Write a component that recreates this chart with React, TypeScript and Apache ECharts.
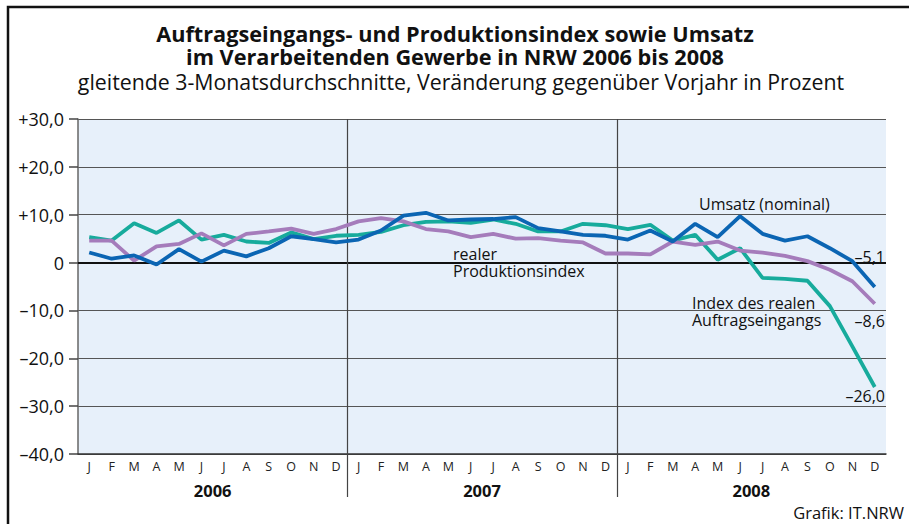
import React, { useEffect, useRef } from "react";
import * as echarts from "echarts";

const monthLetters = ["J", "F", "M", "A", "M", "J", "J", "A", "S", "O", "N", "D"];
const years = ["2006", "2007", "2008"];
const categories: string[] = [];
years.forEach((y) => monthLetters.forEach((m, i) => categories.push(y + "-" + (i + 1))));

const yTicks = [-40, -30, -20, -10, 0, 10, 20, 30];

// Index des realen Auftragseingangs
const auftrag = [
  5.3, 4.6, 8.2, 6.2, 8.8, 4.8, 5.8, 4.4, 4.1, 6.3, 4.9, 5.6,
  5.8, 6.4, 7.8, 8.5, 8.6, 8.3, 9.0, 8.1, 6.5, 6.5, 8.1, 7.8,
  7.0, 7.9, 4.6, 5.8, 0.6, 3.0, -3.2, -3.4, -3.8, -9.1, -17.5, -26.0,
];
// realer Produktionsindex
const produktion = [
  4.6, 4.6, 0.4, 3.4, 3.9, 6.1, 3.6, 6.0, 6.5, 7.1, 6.0, 7.0,
  8.6, 9.3, 8.6, 7.0, 6.5, 5.3, 6.0, 5.0, 5.1, 4.6, 4.2, 1.9,
  1.9, 1.7, 4.4, 3.7, 4.4, 2.5, 2.1, 1.4, 0.3, -1.5, -3.9, -8.6,
];
// Umsatz (nominal)
const umsatz = [
  2.1, 0.8, 1.5, -0.4, 2.8, 0.2, 2.5, 1.3, 3.0, 5.5, 4.9, 4.2,
  4.8, 6.7, 9.8, 10.4, 8.8, 9.0, 9.1, 9.5, 7.2, 6.5, 5.8, 5.6,
  4.8, 6.7, 4.4, 8.1, 5.3, 9.7, 6.0, 4.6, 5.5, 3.0, 0.3, -5.1,
];

const FONT = "'Open Sans', 'Noto Sans', sans-serif";
const TEAL = "#17ab9c";
const PURPLE = "#a57cbb";
const BLUE = "#0b65b3";

function fmtY(v: number): string {
  if (v === 0) return "0";
  const s = Math.abs(v).toFixed(1).replace(".", ",");
  return v > 0 ? "+" + s : "\u2013" + s;
}

export default function App() {
  const ref = useRef<HTMLDivElement>(null);
  useEffect(() => {
    if (!ref.current) return;
    const chart = echarts.init(ref.current, null, { renderer: "svg" });
    const lineSeries = (name: string, data: number[], color: string, z: number) => ({
      name,
      type: "line",
      data,
      symbol: "none",
      z,
      lineStyle: { color, width: 3.8 },
      itemStyle: { color },
    });
    const textEl = (text: string, x: number, y: number, opts: any = {}) => ({
      type: "text",
      x,
      y,
      z: 100,
      style: {
        text,
        fontFamily: FONT,
        fontSize: 16,
        fill: "#111",
        textVerticalAlign: "middle",
        ...opts,
      },
    });
    chart.setOption({
      animation: false,
      backgroundColor: "#ffffff",
      grid: { left: 78, right: 23, top: 119, bottom: 70, show: true, backgroundColor: "#e7f0fa", borderWidth: 0 },
      xAxis: [
        {
          type: "category",
          data: categories,
          boundaryGap: true,
          axisLine: { onZero: false, lineStyle: { color: "#333", width: 1.5 } },
          axisTick: { show: false },
          splitLine: { show: false },
          axisLabel: {
            formatter: (v: string) => monthLetters[parseInt(v.split("-")[1], 10) - 1],
            interval: 0,
            fontFamily: FONT,
            fontSize: 12.5,
            color: "#222",
            margin: 6,
          },
        },
        {
          type: "category",
          data: years,
          position: "bottom",
          offset: 22,
          axisLine: { show: false },
          axisTick: { show: false },
          splitLine: { show: false },
          axisLabel: { fontFamily: FONT, fontSize: 16.5, fontWeight: "bold", color: "#111", margin: 6 },
        },
      ],
      yAxis: {
        type: "value",
        min: -40,
        max: 30,
        interval: 10,
        axisLine: { show: true, lineStyle: { color: "#666", width: 1.5 } },
        axisTick: { show: true, length: 9, lineStyle: { color: "#444", width: 1.5 } },
        splitLine: { show: true, lineStyle: { color: "#555", width: 1.2 } },
        axisLabel: {
          formatter: (v: number) => (yTicks.indexOf(v) >= 0 ? fmtY(v) : ""),
          fontFamily: FONT,
          fontSize: 18,
          color: "#111",
          margin: 14,
        },
      },
      series: [
        {
          ...lineSeries("Index des realen Auftragseingangs", auftrag, TEAL, 3),
          markLine: {
            silent: true,
            symbol: "none",
            label: { show: false },
            lineStyle: { color: "#111", width: 2, type: "solid" },
            data: [{ yAxis: 0 }],
            z: 1,
          },
        },
        lineSeries("realer Produktionsindex", produktion, PURPLE, 4),
        lineSeries("Umsatz (nominal)", umsatz, BLUE, 5),
      ],
    });

    const yTop = chart.convertToPixel({ yAxisIndex: 0 }, 30) as number;
    const yBot = chart.convertToPixel({ yAxisIndex: 0 }, -40) as number;
    const seps: any[] = [];
    [12, 24].forEach((i) => {
      const a = chart.convertToPixel({ xAxisIndex: 0 }, categories[i - 1]) as number;
      const b = chart.convertToPixel({ xAxisIndex: 0 }, categories[i]) as number;
      const x = Math.round((a + b) / 2) + 0.5;
      seps.push({
        type: "line",
        z: 2,
        shape: { x1: x, y1: yTop, x2: x, y2: yBot + 43 },
        style: { stroke: "#444", lineWidth: 1.2 },
      });
    });

    chart.setOption({
      graphic: [
        {
          type: "rect",
          z: 0,
          shape: { x: 8, y: 7, width: 960, height: 600 },
          style: { fill: "none", stroke: "#111", lineWidth: 2.5 },
        },
        ...seps,
        textEl(
          "Auftragseingangs- und Produktionsindex sowie Umsatz\nim Verarbeitenden Gewerbe in NRW 2006 bis 2008",
          455,
          44.5,
          { textAlign: "center", fontWeight: "bold", fontSize: 21.7, lineHeight: 23 }
        ),
        textEl("gleitende 3-Monatsdurchschnitte, Veränderung gegenüber Vorjahr in Prozent", 461, 81, {
          textAlign: "center",
          fontSize: 21.3,
        }),
        textEl("Umsatz (nominal)", 699, 204),
        textEl("realer\nProduktionsindex", 453, 262.5, { lineHeight: 17 }),
        textEl("Index des realen\nAuftragseingangs", 692, 311.5, { lineHeight: 17 }),
        textEl("\u20135,1", 885, 257, { textAlign: "right" }),
        textEl("\u20138,6", 885, 321, { textAlign: "right" }),
        textEl("\u201326,0", 885, 396, { textAlign: "right" }),
        textEl("Grafik: IT.NRW", 904, 512, { textAlign: "right", fontSize: 16.5 }),
      ],
    });
    return () => chart.dispose();
  }, []);
  return (
    <div
      ref={ref}
      style={{ position: "fixed", left: 0, top: 0, width: 909, height: 524 }}
    />
  );
}
